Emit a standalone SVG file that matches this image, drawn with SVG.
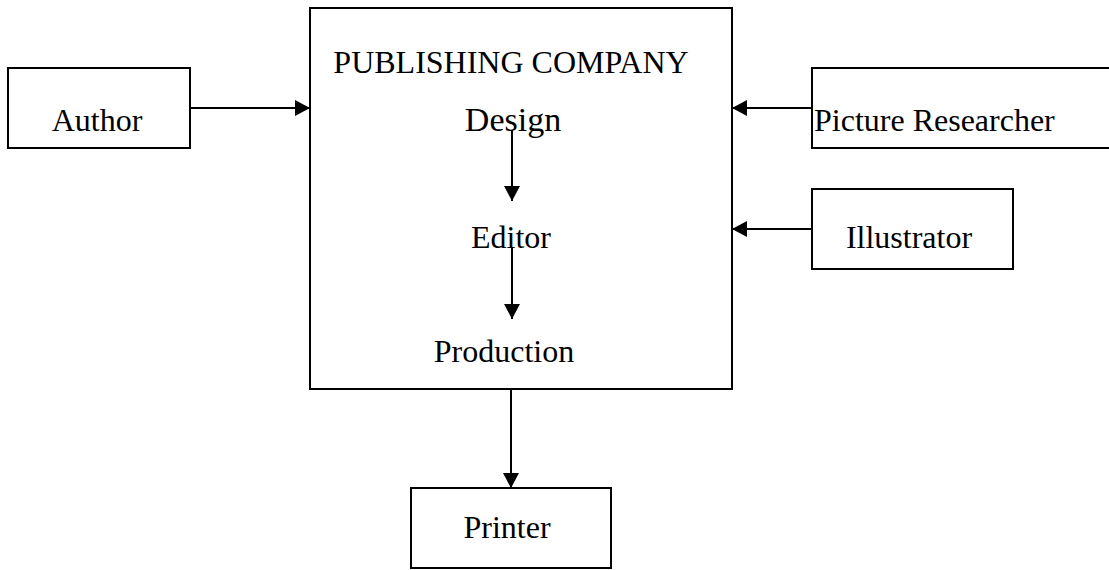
<svg xmlns="http://www.w3.org/2000/svg" width="1109" height="570" viewBox="0 0 1109 570">
<style>
.box{fill:#fff;stroke:#000;stroke-width:2}
.t{font-family:"Liberation Serif","Times New Roman",serif;font-size:32px;fill:#000}
.c{stroke:#000;stroke-width:2;fill:none}
</style>
<defs>
<marker id="ah" markerUnits="userSpaceOnUse" markerWidth="16" markerHeight="16" refX="15" refY="8" orient="auto">
<path d="M0,0 L15,8 L0,16 Z" fill="#000"/>
</marker>
</defs>
<g id="company">
<rect class="box" x="310" y="8" width="422" height="381"/>
<text class="t" x="511" y="73" text-anchor="middle">PUBLISHING COMPANY</text>
<text class="t" x="513" y="131" text-anchor="middle" style="font-size:34px">Design</text>
<text class="t" x="511" y="248" text-anchor="middle">Editor</text>
<text class="t" x="504" y="362" text-anchor="middle">Production</text>
</g>
<g id="author">
<rect class="box" x="8" y="68" width="182" height="80"/>
<text class="t" x="97" y="131" text-anchor="middle">Author</text>
</g>
<g id="picture-researcher">
<rect class="box" x="812" y="68" width="310" height="80"/>
<text class="t" x="814" y="131">Picture Researcher</text>
</g>
<g id="illustrator">
<rect class="box" x="812" y="189" width="201" height="80"/>
<text class="t" x="909" y="248" text-anchor="middle">Illustrator</text>
</g>
<g id="printer">
<rect class="box" x="411" y="488" width="200" height="80"/>
<text class="t" x="507" y="538" text-anchor="middle">Printer</text>
</g>
<g id="connectors">
<line class="c" x1="190" y1="108" x2="310" y2="108" marker-end="url(#ah)"/>
<line class="c" x1="812" y1="108" x2="732" y2="108" marker-end="url(#ah)"/>
<line class="c" x1="812" y1="229" x2="732" y2="229" marker-end="url(#ah)"/>
<line class="c" x1="512" y1="130" x2="512" y2="201" marker-end="url(#ah)"/>
<line class="c" x1="512" y1="247" x2="512" y2="319" marker-end="url(#ah)"/>
<line class="c" x1="511" y1="389" x2="511" y2="488" marker-end="url(#ah)"/>
</g>
</svg>
